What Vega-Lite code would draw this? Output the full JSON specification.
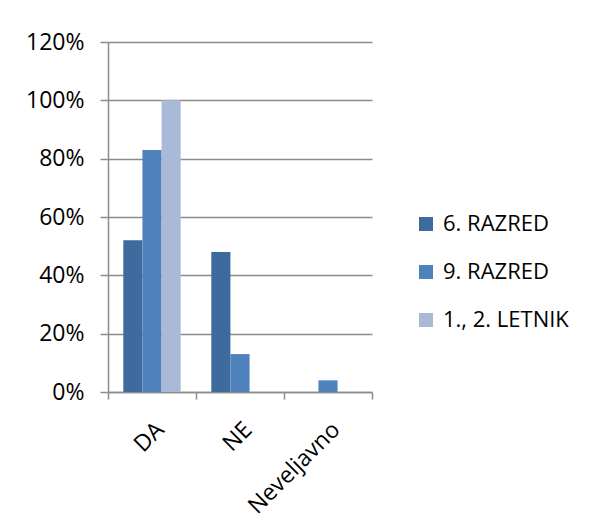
{
  "$schema": "https://vega.github.io/schema/vega-lite/v6.json",
  "width": 264,
  "height": 350,
  "autosize": {"type": "none"},
  "padding": {"left": 108, "top": 42, "right": 220, "bottom": 137},
  "background": "white",
  "config": {
    "view": {"stroke": null},
    "font": "Open Sans",
    "axis": {
      "domainColor": "#8c8c8c",
      "domainWidth": 1.5,
      "tickColor": "#8c8c8c",
      "tickWidth": 1.5,
      "tickSize": 8,
      "gridColor": "#8c8c8c",
      "gridWidth": 1.5,
      "labelColor": "#000000",
      "labelFontSize": 22,
      "title": null
    }
  },
  "data": {
    "values": [
      {"odgovor": "DA", "skupina": "6. RAZRED", "delez": 0.52},
      {"odgovor": "DA", "skupina": "9. RAZRED", "delez": 0.83},
      {"odgovor": "DA", "skupina": "1., 2. LETNIK", "delez": 1.0},
      {"odgovor": "NE", "skupina": "6. RAZRED", "delez": 0.48},
      {"odgovor": "NE", "skupina": "9. RAZRED", "delez": 0.13},
      {"odgovor": "NE", "skupina": "1., 2. LETNIK", "delez": 0.0},
      {"odgovor": "Neveljavno", "skupina": "6. RAZRED", "delez": 0.0},
      {"odgovor": "Neveljavno", "skupina": "9. RAZRED", "delez": 0.04},
      {"odgovor": "Neveljavno", "skupina": "1., 2. LETNIK", "delez": 0.0}
    ]
  },
  "mark": {"type": "bar"},
  "encoding": {
    "x": {
      "field": "odgovor",
      "type": "nominal",
      "sort": null,
      "scale": {"paddingInner": 0, "paddingOuter": 0},
      "axis": {
        "labelAngle": -45,
        "tickBand": "extent",
        "tickSize": 7,
        "labelPadding": 19,
        "labelFontSize": 23
      }
    },
    "xOffset": {
      "field": "skupina",
      "sort": ["6. RAZRED", "9. RAZRED", "1., 2. LETNIK"],
      "scale": {"paddingInner": 0, "paddingOuter": 0.8}
    },
    "y": {
      "field": "delez",
      "type": "quantitative",
      "scale": {"domain": [0, 1.2], "nice": false},
      "axis": {
        "format": ".0%",
        "values": [0, 0.2, 0.4, 0.6, 0.8, 1.0, 1.2],
        "grid": true,
        "labelPadding": 16,
        "labelFontSize": 23
      }
    },
    "color": {
      "field": "skupina",
      "type": "nominal",
      "scale": {
        "domain": ["6. RAZRED", "9. RAZRED", "1., 2. LETNIK"],
        "range": ["#3f6a9d", "#4f81bd", "#aab9d8"]
      },
      "legend": {
        "title": null,
        "orient": "none",
        "legendX": 307,
        "legendY": 171,
        "padding": 0,
        "symbolType": "square",
        "symbolSize": 196,
        "symbolStrokeWidth": 0,
        "labelFontSize": 22,
        "labelColor": "#000000",
        "labelOffset": 6,
        "rowPadding": 26
      }
    }
  }
}
